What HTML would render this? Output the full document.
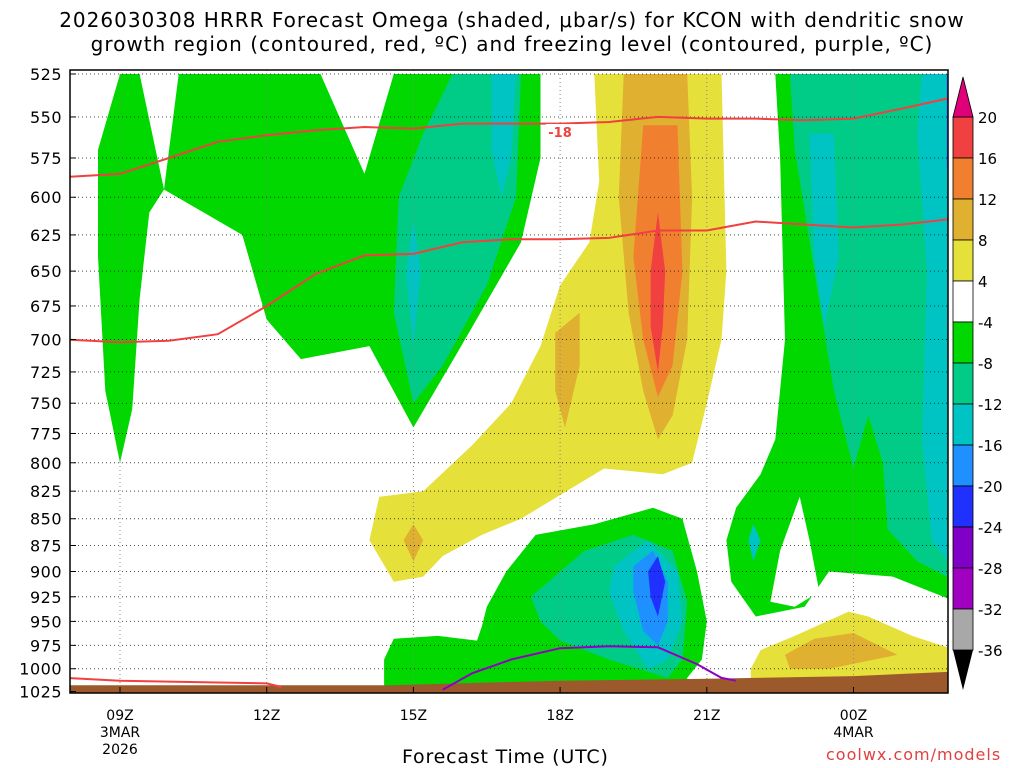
<!DOCTYPE html>
<html><head><meta charset="utf-8"><style>
body{margin:0;background:#fff;width:1024px;height:768px;overflow:hidden;font-family:"DejaVu Sans","Liberation Sans",sans-serif}
svg{position:absolute;left:0;top:0;font-family:"DejaVu Sans","Liberation Sans",sans-serif}
</style></head><body>
<svg id="c" width="1024" height="768" xmlns="http://www.w3.org/2000/svg"></svg>
<script>
// ---- data ----
const pressureTicks=[525,550,575,600,625,650,675,700,725,750,775,800,825,850,875,900,925,950,975,1000,1025];
const timeTicks=[9,12,15,18,21,24];
const timeLabels=["09Z","12Z","15Z","18Z","21Z","00Z"];
const cbLevels=[20,16,12,8,4,-4,-8,-12,-16,-20,-24,-28,-32,-36];
const cbColors=["#f04040","#f08030","#e0b030","#e6e03a","#ffffff","#00d800","#00cc88","#00c4c4","#1e90ff","#2030ff","#8000c8","#a000c0","#a8a8a8"];
// shaded regions: [hour, hPa]
const greenLeft=[[9.0,525],[9.4,525],[9.9,595],[10.2,525],[13.1,525],[14.0,585],[14.6,525],[17.6,525],[17.6,575],[17.2,630],[15.9,710],[15.0,770],[14.1,705],[12.7,715],[12.0,685],[11.5,625],[9.9,595],[9.6,610],[9.4,670],[9.25,755],[9.0,800],[8.7,740],[8.55,640],[8.55,570]];
const midGreenLeft=[[15.8,525],[17.2,525],[17.1,600],[16.5,660],[15.6,720],[15.0,750],[14.6,680],[14.7,600],[15.2,560]];
const tealLeft1=[[16.6,525],[17.1,525],[17.0,575],[16.8,600],[16.6,570]];
const tealLeft2=[[15.0,615],[15.15,650],[15.0,705],[14.85,650]];
const yellowBand=[[18.7,525],[21.3,525],[21.4,650],[21.3,700],[21.0,750],[20.7,800],[20.1,810],[18.9,805],[17.2,850],[16.4,865],[15.6,885],[15.2,905],[14.6,910],[14.1,870],[14.3,830],[15.2,825],[16.2,785],[17.0,750],[17.6,705],[18.0,660],[18.6,630],[18.8,590]];
const goldBand=[[19.3,525],[20.6,525],[20.7,600],[20.6,700],[20.3,760],[20.0,780],[19.7,740],[19.4,680],[19.2,600]];
const goldSmall1=[[17.9,695],[18.4,680],[18.4,720],[18.1,770],[17.9,740]];
const goldSmall2=[[15.0,855],[15.2,870],[15.0,890],[14.8,870]];
const orangeBand=[[19.7,555],[20.4,555],[20.5,650],[20.3,720],[20.0,745],[19.7,700],[19.5,640]];
const redBand=[[20.0,610],[20.15,650],[20.1,690],[20.0,725],[19.85,690],[19.85,650]];
const greenLow=[[14.4,1030],[14.4,990],[14.6,968],[15.5,965],[16.3,970],[16.4,955],[16.5,935],[16.9,900],[17.5,865],[18.7,855],[19.9,840],[20.5,850],[20.8,900],[21.0,950],[20.9,990],[20.6,1010],[20.6,1030]];
const midGreenLow=[[17.4,925],[18.5,880],[19.5,865],[20.3,880],[20.6,930],[20.5,990],[20.2,1010],[19,990],[18,970],[17.6,950]];
const tealLow=[[19.1,895],[19.8,870],[20.4,900],[20.5,950],[20.2,990],[19.8,1000],[19.3,960],[19.0,920]];
const lblueLow=[[19.5,895],[19.9,880],[20.2,910],[20.2,950],[20.0,975],[19.7,960],[19.5,920]];
const blueLow=[[19.8,900],[20.0,885],[20.15,910],[20.0,945],[19.85,925]];
const greenRight=[[22.4,525],[26.1,525],[26.1,930],[24.8,905],[23.5,900],[23.0,935],[22.0,945],[21.5,910],[21.4,870],[21.6,840],[22.1,810],[22.4,780],[22.6,700],[22.5,575]];
const whiteHole=[[22.9,830],[23.1,870],[23.3,920],[22.8,935],[22.3,930],[22.5,880]];
const midGreenRight=[[22.7,525],[25.6,525],[26.1,560],[26.1,910],[25.3,890],[24.7,860],[24.6,800],[24.3,760],[24.0,805],[23.6,740],[23.2,650],[22.8,570]];
const tealRight1=[[23.1,560],[23.6,560],[23.7,640],[23.4,690],[23.2,640]];
const tealRight2=[[25.4,525],[26.1,525],[26.1,900],[25.6,870],[25.4,780],[25.5,650],[25.3,560]];
const lblueRight=[[25.9,525],[26.1,525],[26.1,610],[25.9,580]];
const tealBlob=[[21.95,855],[22.1,870],[21.95,890],[21.85,870]];
const yellowRight=[[21.9,1030],[21.9,1000],[22.1,980],[22.8,965],[23.9,940],[24.3,945],[25.2,965],[26.1,980],[26.1,1030]];
const goldRight=[[22.6,985],[23.2,968],[24,962],[24.9,985],[23.5,1000],[22.7,1000]];
const ground=[[7.9,1018],[14.5,1018],[18,1013],[21,1011],[24,1008],[26.1,1003],[26.1,1040],[7.9,1040]];
const line18=[[7.9,587],[9,585],[10,575],[11,565],[12,561],[13,558],[14,556],[15,557],[16,554],[17,554],[18,554],[19,553],[20,550],[21,551],[22,551],[23,552],[24,551],[25,545],[26.1,538]];
const line12=[[7.9,700],[9,702],[10,701],[11,696],[12,675],[13,652],[14,639],[15,638],[16,630],[17,628],[18,628],[19,627],[20,622],[21,622],[22,616],[23,618],[24,620],[25,618],[26.1,614]];
const lineLow=[[7.9,1010],[9,1013],[10,1014],[11,1015],[12,1016],[12.3,1020]];
const freezing=[[15.6,1023],[16.2,1005],[17,990],[18,978],[19,976],[20,977],[20.8,995],[21.3,1010],[21.6,1013]];

// ---- axes ----
const X0=70,X1=948,Y0=70,Y1=693;
const x=h=>120+(h-9)*48.9;
const y=p=>74+923*(Math.log(p)-Math.log(525));
const S="http://www.w3.org/2000/svg";
const svg=document.getElementById('c');
function el(t,a,parent){const e=document.createElementNS(S,t);for(const k in a)e.setAttribute(k,a[k]);(parent||svg).appendChild(e);return e;}
const defs=el('defs',{});
const cp=el('clipPath',{id:'pc'},defs);el('rect',{x:X0,y:Y0,width:X1-X0,height:Y1-Y0},cp);
const g=el('g',{'clip-path':'url(#pc)'});
function poly(pts,fill,name){const e=el('polygon',{points:pts.map(p=>x(p[0]).toFixed(1)+','+y(p[1]).toFixed(1)).join(' '),fill:fill},g);

return e;}
function line(pts,col,w,name){const e=el('polyline',{points:pts.map(p=>x(p[0]).toFixed(1)+','+y(p[1]).toFixed(1)).join(' '),fill:'none',stroke:col,'stroke-width':w},g);

return e;}
const G="#00d800",MG="#00cc88",T="#00c4c4",LB="#1e90ff",B="#2030ff",Y="#e6e03a",GD="#e0b030",O="#f08030",R="#f04040";
poly(greenLeft,G,'omega-green-left');
poly(midGreenLeft,MG,'omega-midgreen-left');
poly(tealLeft1,T,'omega-teal-left-1');
poly(tealLeft2,T,'omega-teal-left-2');
poly(yellowBand,Y,'omega-yellow-band');
poly(goldBand,GD,'omega-gold-band');
poly(goldSmall1,GD,'omega-gold-small-1');
poly(goldSmall2,GD,'omega-gold-small-2');
poly(orangeBand,O,'omega-orange-band');
poly(redBand,R,'omega-red-band');
poly(greenLow,G,'omega-green-low');
poly(midGreenLow,MG,'omega-midgreen-low');
poly(tealLow,T,'omega-teal-low');
poly(lblueLow,LB,'omega-lightblue-low');
poly(blueLow,B,'omega-blue-low');
poly(greenRight,G,'omega-green-right');
poly(whiteHole,'#ffffff','omega-white-hole');
poly(midGreenRight,MG,'omega-midgreen-right');
poly(tealRight1,T,'omega-teal-right-1');
poly(tealRight2,T,'omega-teal-right-2');
poly(lblueRight,LB,'omega-lightblue-right');
poly(tealBlob,T,'omega-teal-blob');
poly(yellowRight,Y,'omega-yellow-right');
poly(goldRight,GD,'omega-gold-right');
// grid
pressureTicks.forEach(p=>{const e=el('line',{x1:X0,x2:X1,y1:y(p),y2:y(p),stroke:'#000','stroke-width':1,'stroke-dasharray':'1,3',opacity:0.7},g);

});
timeTicks.forEach(h=>{const e=el('line',{x1:x(h),x2:x(h),y1:Y0,y2:Y1,stroke:'#888','stroke-width':1,'stroke-dasharray':'1,3'},g);

});
poly(ground,'#9c5a2c','ground');
line(line18,'#f04040',2,'dgz-contour-upper');
line(line12,'#f04040',2,'dgz-contour-lower');
line(lineLow,'#f04040',2,'dgz-contour-surface');
line(freezing,'#9000c0',2,'freezing-level');
// contour label
const lr=el('rect',{x:546,y:124,width:28,height:16,fill:'#fff'});


const lt=el('text',{x:560,y:137,'font-size':13,'text-anchor':'middle',fill:'#f04040','font-weight':'bold'});lt.textContent='-18';


// frame
const fr=el('rect',{x:X0,y:Y0,width:X1-X0,height:Y1-Y0,fill:'none',stroke:'#000','stroke-width':1.5});


// y labels
pressureTicks.forEach(p=>{const t=el('text',{x:62,y:y(p)+6,'font-size':16,'text-anchor':'end',fill:'#000','letter-spacing':0.5});t.textContent=p;


const tk=el('line',{x1:X0,x2:X0+6,y1:y(p),y2:y(p),stroke:'#000'});

});
// x labels
timeTicks.forEach((h,i)=>{const t=el('text',{x:x(h),y:720,'font-size':14,'text-anchor':'middle'});t.textContent=timeLabels[i];


const tk=el('line',{x1:x(h),x2:x(h),y1:Y1,y2:Y1-6,stroke:'#000'});

});
[[9,737,'3MAR'],[9,754,'2026'],[24,737,'4MAR']].forEach(a=>{const t=el('text',{x:x(a[0]),y:a[1],'font-size':14,'text-anchor':'middle'});t.textContent=a[2];

});
// colorbar
const CBX=953,CBW=20,cy=i=>117+i*41;
cbColors.forEach((c,i)=>{const r=el('rect',{x:CBX,y:cy(i),width:CBW,height:41,fill:c,stroke:'#000','stroke-width':0.8});

});
const tt=el('polygon',{points:`${CBX},117 ${CBX+CBW},117 ${CBX+CBW/2},77`,fill:'#e0007a',stroke:'#000','stroke-width':0.8});


const bt=el('polygon',{points:`${CBX},650 ${CBX+CBW},650 ${CBX+CBW/2},690`,fill:'#000'});


cbLevels.forEach((v,i)=>{const t=el('text',{x:978,y:cy(i)+6,'font-size':15});t.textContent=v;

});
</script>
<div style="position:absolute;left:0;width:1024px;top:8px;text-align:center;font-size:20px;line-height:24px;letter-spacing:1px;color:#000;white-space:nowrap">2026030308 HRRR Forecast Omega (shaded, μbar/s) for KCON with dendritic snow<br>growth region (contoured, red, ºC) and freezing level (contoured, purple, ºC)</div>
<div style="position:absolute;left:402px;top:746px;font-size:19px;letter-spacing:0.8px;white-space:nowrap">Forecast Time (UTC)</div>
<div style="position:absolute;left:826px;top:745px;font-size:16px;color:#e04040;letter-spacing:1px;white-space:nowrap">coolwx.com/models</div>
</body></html>
